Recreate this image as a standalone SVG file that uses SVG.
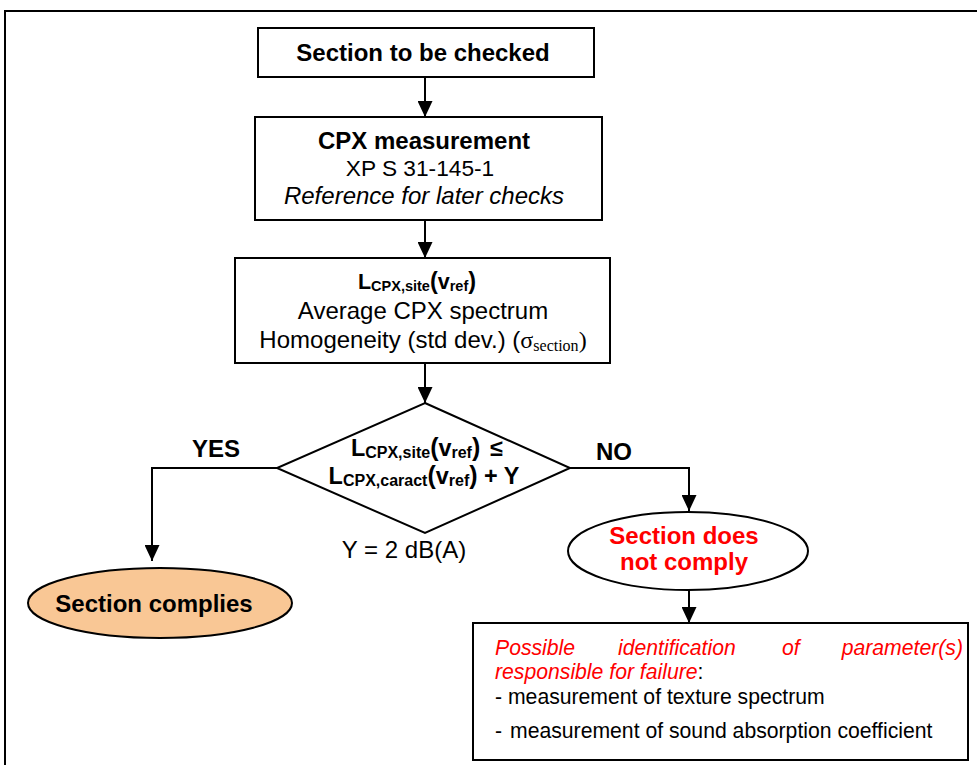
<svg xmlns="http://www.w3.org/2000/svg" width="977" height="765" viewBox="0 0 977 765">
<defs>
<style>
.t{font-family:"Liberation Sans",Arial,sans-serif;fill:#000}
.b{font-weight:bold}
.box{fill:#fff;stroke:#000;stroke-width:2}
.ln{fill:none;stroke:#000;stroke-width:2}
.red{fill:#ff0000}
.ser{font-family:"Liberation Serif","Times New Roman",serif}
</style>
<marker id="ah" viewBox="0 0 16 15" refX="16" refY="7.5" markerWidth="16" markerHeight="15" markerUnits="userSpaceOnUse" orient="auto">
<path d="M0,0 L16,7.5 L0,15 Z" fill="#000"/>
</marker>
</defs>
<rect width="977" height="765" fill="#fff"/>
<path d="M5,765 V11 H977" fill="none" stroke="#000" stroke-width="2"/>

<g id="connectors">
<line class="ln" x1="425" y1="77" x2="425" y2="117" marker-end="url(#ah)"/>
<line class="ln" x1="425" y1="220" x2="425" y2="258" marker-end="url(#ah)"/>
<line class="ln" x1="425" y1="363" x2="425" y2="403" marker-end="url(#ah)"/>
<polyline class="ln" points="277,468 152,468 152,561" marker-end="url(#ah)"/>
<polyline class="ln" points="568,468 689,468 689,511" marker-end="url(#ah)"/>
<line class="ln" x1="689" y1="590" x2="689" y2="623" marker-end="url(#ah)"/>
</g>

<g id="n1">
<rect class="box" x="258" y="28" width="336" height="49"/>
<text class="t b" x="423" y="61" font-size="24" text-anchor="middle">Section to be checked</text>
</g>

<g id="n2">
<rect class="box" x="255" y="117" width="347" height="103"/>
<text class="t b" x="424" y="149" font-size="24" text-anchor="middle">CPX measurement</text>
<text class="t" x="420" y="176" font-size="22.7" text-anchor="middle">XP S 31-145-1</text>
<text class="t" x="424" y="204" font-size="24" font-style="italic" text-anchor="middle">Reference for later checks</text>
</g>

<g id="n3">
<rect class="box" x="235" y="258" width="375" height="105"/>
<text class="t b" x="417" y="289" text-anchor="middle" font-size="21.5">L<tspan font-size="14.5" dy="2">CPX,site</tspan><tspan dy="-2" font-size="23.5">(</tspan>v<tspan font-size="14.5" dy="2">ref</tspan><tspan dy="-2" font-size="23.5">)</tspan></text>
<text class="t" x="423" y="319" font-size="24" text-anchor="middle">Average CPX spectrum</text>
<text class="t" x="423" y="348" font-size="24" text-anchor="middle">Homogeneity (std dev.) (<tspan class="ser" font-size="24">σ</tspan><tspan class="ser" font-size="16" dy="3">section</tspan><tspan class="ser" font-size="24" dy="-3">)</tspan></text>
</g>

<g id="n4">
<polygon points="425,403 570,468 425,533 277,468" fill="#fff" stroke="#000" stroke-width="2"/>
<text class="t b" x="427" y="456" text-anchor="middle" font-size="23.4">L<tspan font-size="16" dy="2">CPX,site</tspan><tspan dy="-2" font-size="25">(</tspan>v<tspan font-size="16" dy="2">ref</tspan><tspan dy="-2" font-size="25">)</tspan><tspan dx="10">≤</tspan></text>
<text class="t b" x="424" y="484" text-anchor="middle" font-size="23.4">L<tspan font-size="16" dy="2">CPX,caract</tspan><tspan dy="-2" font-size="25">(</tspan>v<tspan font-size="16" dy="2">ref</tspan><tspan dy="-2" font-size="25">)</tspan> + Y</text>
<text class="t" x="404" y="558" font-size="24" text-anchor="middle">Y = 2 dB(A)</text>
</g>

<text class="t b" x="216" y="457" font-size="24" text-anchor="middle">YES</text>
<text class="t b" x="614" y="460" font-size="24" text-anchor="middle">NO</text>

<g id="n5">
<ellipse cx="160" cy="603" rx="132" ry="35" fill="#f9c795" stroke="#000" stroke-width="2"/>
<text class="t b" x="154" y="612" font-size="24" text-anchor="middle">Section complies</text>
</g>

<g id="n6">
<ellipse cx="688" cy="551" rx="120" ry="39" fill="#fff" stroke="#000" stroke-width="2"/>
<text class="t b red" x="684" y="544" font-size="24" text-anchor="middle">Section does</text>
<text class="t b red" x="684" y="570" font-size="24" text-anchor="middle">not comply</text>
</g>

<g id="n7">
<rect class="box" x="473" y="623" width="495" height="137"/>
<text class="t red" font-size="21.2" font-style="italic" y="655"><tspan x="495">Possible</tspan><tspan x="618">identification</tspan><tspan x="782">of</tspan><tspan x="963" text-anchor="end">parameter(s)</tspan></text>
<text class="t" font-size="21.2" x="495" y="679"><tspan class="red" font-style="italic">responsible for failure</tspan>:</text>
<text class="t" font-size="21.2" x="495" y="704">- measurement of texture spectrum</text>
<text class="t" font-size="21.2" y="738"><tspan x="495">-</tspan><tspan x="510">measurement of sound absorption coefficient</tspan></text>
</g>
</svg>
